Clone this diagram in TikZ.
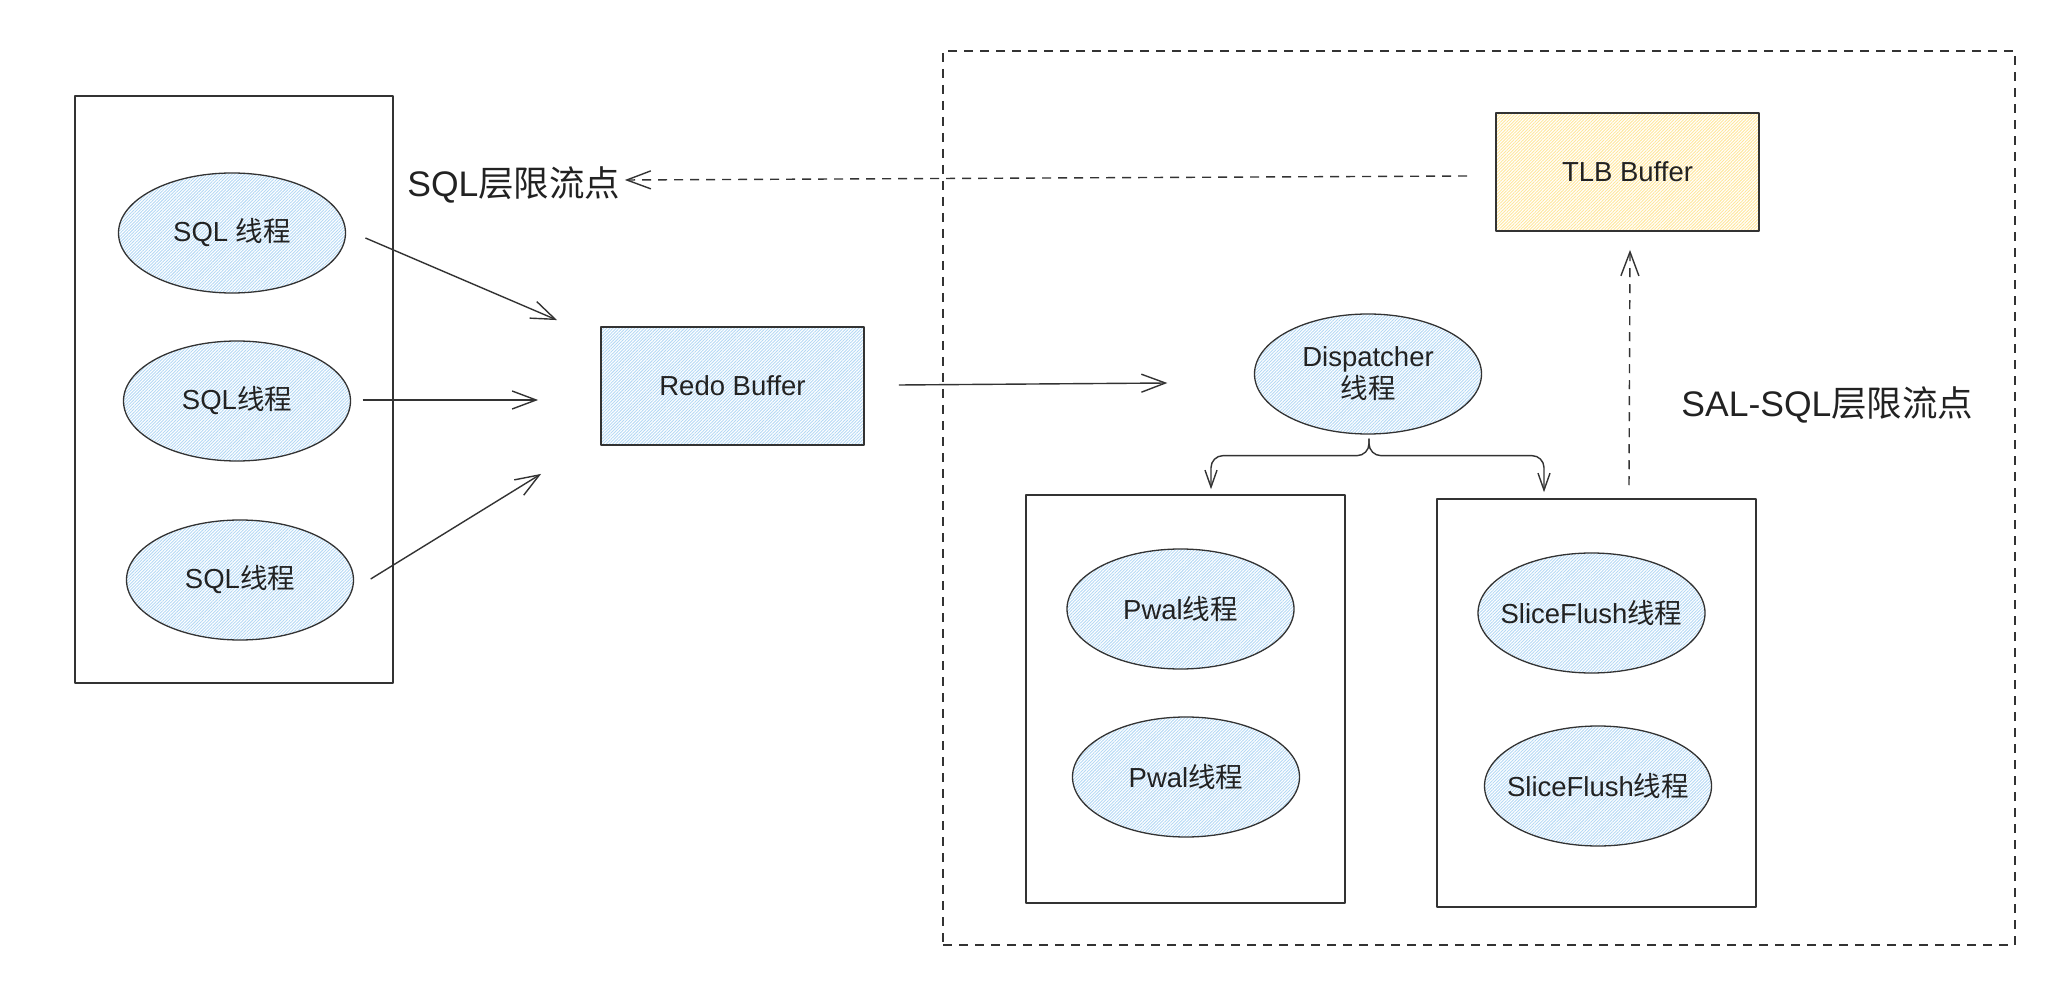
\documentclass[tikz,border=0pt]{standalone}
\usepackage{fontspec}
\setmainfont{Liberation Sans}
\newfontfamily\cjk{Noto Sans CJK SC}
\usetikzlibrary{shapes.geometric,arrows.meta,patterns.meta}

\definecolor{ink}{RGB}{34,34,34}
\definecolor{edge}{RGB}{51,51,51}
\definecolor{hatchblue}{RGB}{180,216,244}
\definecolor{hatchyellow}{RGB}{255,230,155}
\newcommand{\zh}[1]{{\cjk #1}}

\begin{document}
\begin{tikzpicture}[x=0.5pt, y=-0.5pt, line join=round,
  every node/.style={text=ink, font=\fontsize{13.75pt}{16pt}\selectfont},
  thread/.style={ellipse, draw=edge, line width=0.65pt, inner sep=0pt,
    minimum width=113.5pt, minimum height=60pt,
    pattern={Lines[angle=45,distance=1.1pt,line width=0.45pt]}, pattern color=hatchblue},
  buffer/.style={rectangle, draw=edge, line width=0.9pt, inner sep=0pt,
    minimum width=131.5pt, minimum height=59pt,
    pattern={Lines[angle=45,distance=1.1pt,line width=0.45pt]}},
  group/.style={rectangle, draw=edge, line width=0.75pt, inner sep=0pt},
  flow/.style={draw=edge, line width=0.7pt, -{Straight Barb[length=12pt,width=9pt]}},
  split/.style={draw=edge, line width=0.7pt, rounded corners=6pt, -{Straight Barb[length=8.5pt,width=6pt]}},
  limit/.style={flow, dash pattern=on 4.5pt off 3.5pt},
  bigtext/.style={font=\fontsize{17.75pt}{20pt}\selectfont, inner sep=0pt}]
  \useasboundingbox (0,0) rectangle (2055,988);

  % SQL side
  \node[group, minimum width=159pt, minimum height=293.5pt] (sqlbox) at (234,389.5) {};
  \node[thread] (sql1) at (232,233) {SQL \zh{线程}};
  \node[thread] (sql2) at (237,401) {SQL\zh{线程}};
  \node[thread] (sql3) at (240,580) {SQL\zh{线程}};
  \node[buffer, pattern color=hatchblue] (redo) at (732.5,386) {Redo Buffer};

  % SAL side
  \node[group, line width=0.7pt, dash pattern=on 4.5pt off 3.5pt,
    minimum width=536pt, minimum height=447pt] (salbox) at (1479,498) {};
  \node[buffer, pattern color=hatchyellow] (tlb) at (1627.5,172) {TLB Buffer};
  \node[thread, align=center] (disp) at (1368,374) {Dispatcher\\\zh{线程}};
  \node[group, minimum width=159.5pt, minimum height=204pt] (pwalbox) at (1185.5,699) {};
  \node[group, minimum width=159.5pt, minimum height=204pt] (slicebox) at (1596.5,703) {};
  \node[thread] (pwal1) at (1180.5,609) {Pwal\zh{线程}};
  \node[thread] (pwal2) at (1186,777) {Pwal\zh{线程}};
  \node[thread, inner xsep=-6pt] (slice1) at (1591.5,613) {SliceFlush\zh{线程}};
  \node[thread, inner xsep=-6pt] (slice2) at (1598,786) {SliceFlush\zh{线程}};

  % labels
  \node[bigtext, anchor=base west] (sqllim) at (407,197) {SQL\zh{层限流点}};
  \node[bigtext, anchor=base west] (sallim) at (1681,417) {SAL-SQL\zh{层限流点}};

  % connectors
  \draw[flow] ([shift={(19.5,5)}]sql1.east) -- ([shift={(-43,-6)}]redo.north west);
  \draw[flow] ([shift={(11.5,-1)}]sql2.east) -- ([shift={(-62,14)}]redo.west);
  \draw[flow] ([shift={(16.5,-1)}]sql3.east) -- ([shift={(-59,28)}]redo.south west);
  \draw[flow] ([shift={(34,-1)}]redo.east) -- ([shift={(-86.5,9)}]disp.west);
  \draw[split] ([shift={(1,4)}]disp.south) -- ++(0,17) -| ([shift={(25.5,-5)}]pwalbox.north);
  \draw[split] ([shift={(1,4)}]disp.south) -- ++(0,17) -| ([shift={(-52.5,-6)}]slicebox.north);
  \draw[limit] ([shift={(32.5,-13)}]slicebox.north) -- ([shift={(2.5,18)}]tlb.south);
  \draw[limit] ([shift={(-28,4)}]tlb.west) -- ([shift={(4,-17)}]sqllim.base east);
\end{tikzpicture}
\end{document}
